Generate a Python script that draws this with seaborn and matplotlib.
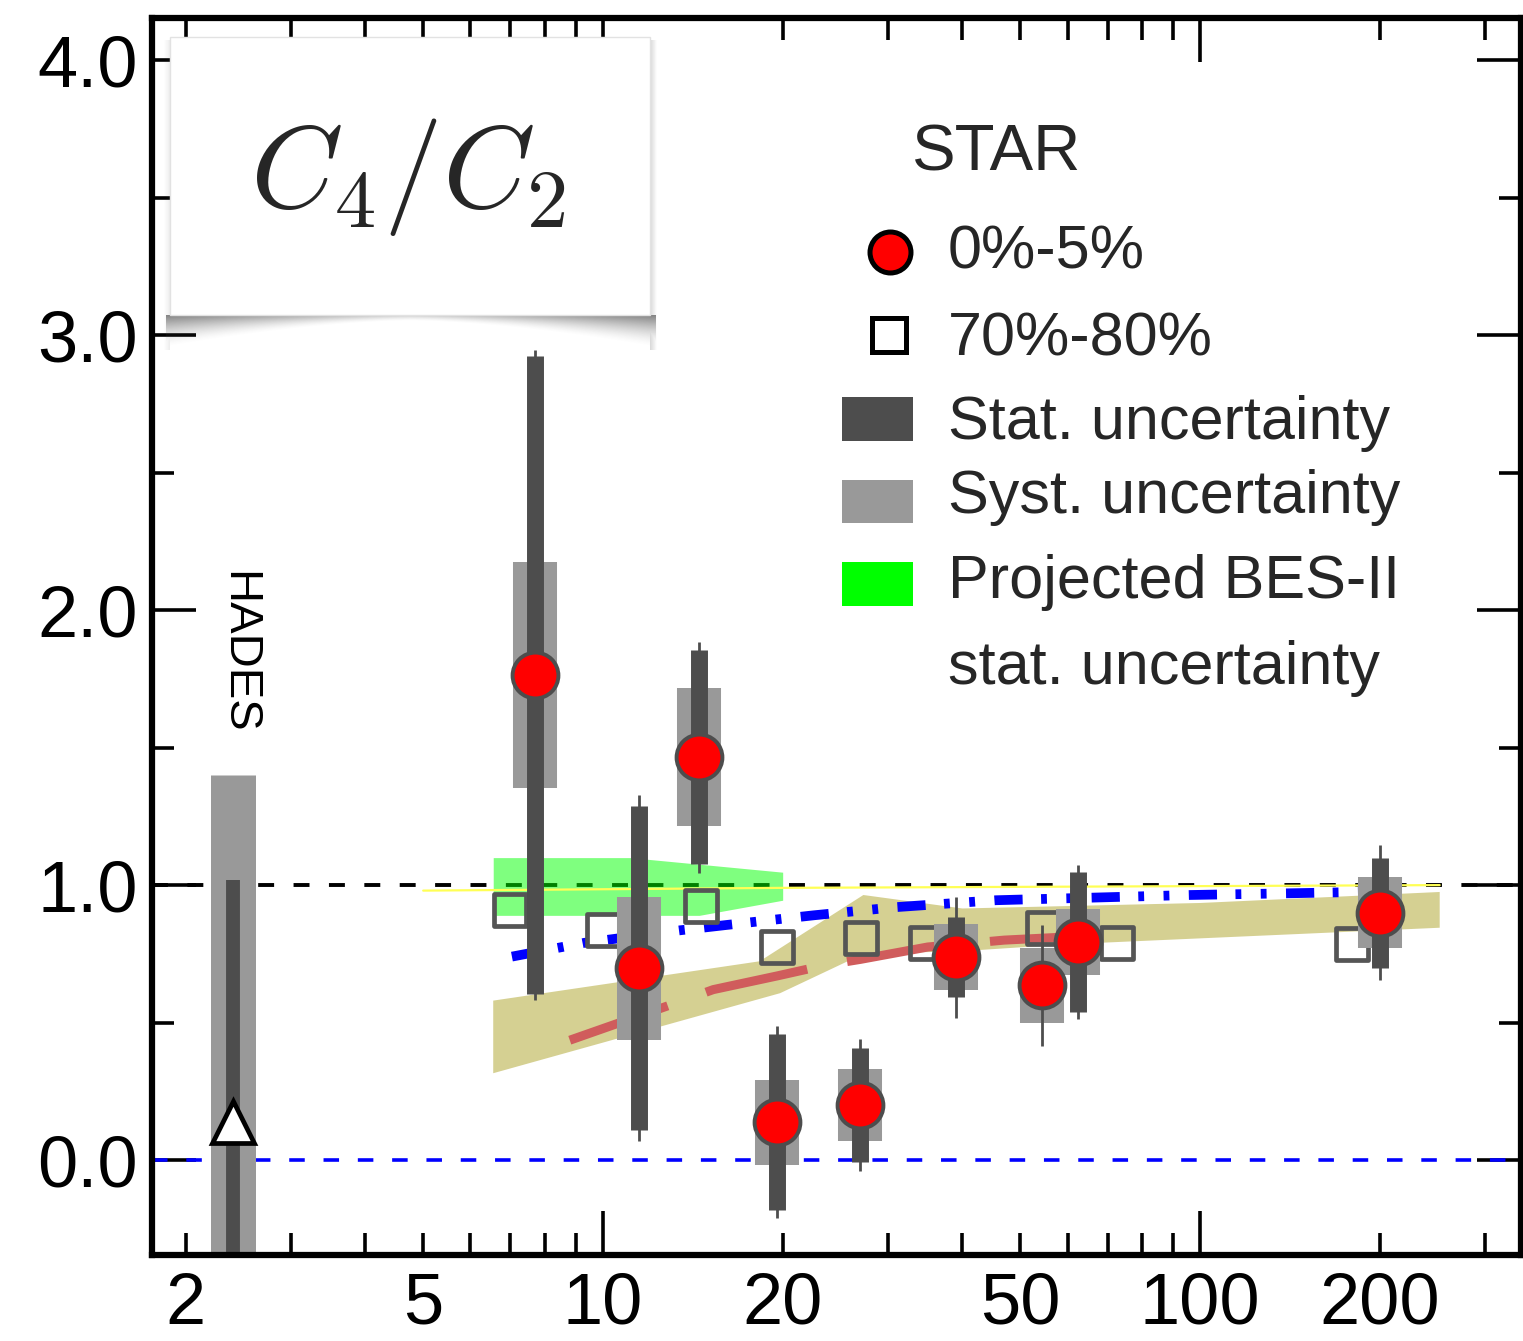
import numpy as np
import pandas as pd
import matplotlib
matplotlib.use("Agg")
import matplotlib.pyplot as plt
import matplotlib.ticker as mticker
from matplotlib.patches import Rectangle
import seaborn as sns

# ---- STAR, 0%-5% central collisions ----
energy = [7.7, 11.5, 14.5, 19.6, 27.0, 39.0, 54.4, 62.4, 200.0]
c4c2_central = [1.764, 0.698, 1.465, 0.138, 0.200, 0.738, 0.636, 0.793, 0.900]
stat_central = [1.16, 0.59, 0.39, 0.32, 0.207, 0.145, 0.08, 0.253, 0.20]
whisker_central = [1.18, 0.63, 0.42, 0.35, 0.24, 0.22, 0.22, 0.28, 0.245]
syst_central = [0.41, 0.26, 0.25, 0.155, 0.13, 0.12, 0.137, 0.12, 0.13]

# ---- STAR, 70%-80% peripheral collisions ----
energy_periph = [7.0, 10.0, 14.6, 19.6, 27.1, 34.8, 54.6, 72.6, 180.0]
c4c2_periph = [0.910, 0.836, 0.924, 0.775, 0.807, 0.790, 0.843, 0.790, 0.785]

# ---- HADES ----
hades_energy = [2.4]
hades_c4c2 = [0.14]
hades_stat = [0.88]
hades_syst = [1.26]

# ---- projected BES-II statistical band ----
bes2_energy = [6.55, 11.1, 14.5, 20.0]
bes2_upper = [1.10, 1.10, 1.076, 1.047]
bes2_lower = [0.89, 0.89, 0.89, 0.945]

# ---- model band ----
band_energy_upper = [6.55, 18.3, 27.3, 40.0, 100.0, 252.0]
band_upper = [0.58, 0.723, 0.964, 0.915, 0.935, 0.975]
band_energy_lower = [6.55, 19.8, 27.3, 40.0, 60.0, 252.0]
band_lower = [0.316, 0.607, 0.75, 0.76, 0.785, 0.845]

# ---- model curves ----
dashed_energy = [8.8, 13.6, 15.3, 19.6, 23.7, 27.0, 35.0, 47.0, 58.0]
dashed_c4c2 = [0.436, 0.58, 0.62, 0.67, 0.71, 0.73, 0.775, 0.80, 0.81]
dashdot_energy = [7.04, 9.3, 13.5, 16.1, 22.5, 31.0, 45.5, 96.0, 139.0, 185.0]
dashdot_c4c2 = [0.74, 0.79, 0.836, 0.855, 0.89, 0.92, 0.945, 0.964, 0.97, 0.975]
thin_energy = [5.0, 20.0, 252.0]
thin_c4c2 = [0.98, 0.99, 1.0]

x_labels = [2, 5, 10, 20, 50, 100, 200]
y_labels = [0.0, 1.0, 2.0, 3.0, 4.0]

central = pd.DataFrame(dict(energy=energy, c4c2=c4c2_central, stat=stat_central,
                            whisker=whisker_central, syst=syst_central))
periph = pd.DataFrame(dict(energy=energy_periph, c4c2=c4c2_periph))

W, H = 1523, 1341
sns.set_theme(style="ticks")
plt.rcParams["font.family"] = ["Liberation Sans", "DejaVu Sans"]
plt.rcParams["mathtext.fontset"] = "cm"

fig = plt.figure(figsize=(W / 100, H / 100), dpi=100)
fig.patch.set_facecolor("white")
L, R, T, B = 152, 1521, 18, 1255
ax = fig.add_axes([L / W, 1 - B / H, (R - L) / W, (B - T) / H])
ax.set_facecolor("white")
ax.set_xscale("log")
ax.set_xlim(1.757, 344.8)
ax.set_ylim(-0.345, 4.153)

# reference lines
ax.axhline(1.0, color="black", lw=2.8, linestyle=(0, (4.1, 5.0)), zorder=1)
ax.axhline(0.0, color="#0000ff", lw=2.6, linestyle=(0, (4.3, 5.2)), zorder=1)

# bands
ax.fill_between(bes2_energy, bes2_lower, bes2_upper, color="#00ff00", alpha=0.5,
                lw=0, zorder=2)
ax.fill(np.r_[band_energy_upper, band_energy_lower[::-1]],
        np.r_[band_upper, band_lower[::-1]], color="#aca226", alpha=0.5, lw=0, zorder=2)

# model curves
sns.lineplot(x=thin_energy, y=thin_c4c2, ax=ax, color="#ffff55", lw=1.6,
             sort=False, estimator=None, zorder=2.5)
sns.lineplot(x=dashed_energy, y=dashed_c4c2, ax=ax, color="#d05c5c", lw=6.5,
             linestyle=(0, (11.5, 4.5)), sort=False, estimator=None, zorder=3)
sns.lineplot(x=dashdot_energy, y=dashdot_c4c2, ax=ax, color="#0000ff", lw=7,
             linestyle=(0, (2.9, 1.9, 0.6, 2.0, 0.6, 2.0)), sort=False,
             estimator=None, zorder=3)

# peripheral points
sns.scatterplot(data=periph, x="energy", y="c4c2", ax=ax, marker="s", s=23 ** 2,
                facecolor="none", edgecolor="#555555", linewidth=3.4, zorder=4,
                legend=False)

# central points with uncertainties
ax.vlines(central.energy, central.c4c2 - central.syst, central.c4c2 + central.syst,
          color="#999999", lw=31.7, capstyle="butt", zorder=5)
ax.vlines(central.energy, central.c4c2 - central.whisker, central.c4c2 + central.whisker,
          color="#4d4d4d", lw=2.0, capstyle="butt", zorder=5.1)
ax.vlines(central.energy, central.c4c2 - central.stat, central.c4c2 + central.stat,
          color="#4d4d4d", lw=12.2, capstyle="butt", zorder=5.2)
sns.scatterplot(data=central, x="energy", y="c4c2", ax=ax, marker="o", s=33 ** 2,
                color="#ff0000", edgecolor="#4d4d4d", linewidth=2.8, zorder=6,
                legend=False)

# HADES
hades_c4c2_arr = np.array(hades_c4c2)
ax.vlines(hades_energy, hades_c4c2_arr - hades_syst, hades_c4c2_arr + hades_syst,
          color="#999999", lw=32.4, capstyle="butt", zorder=5)
ax.vlines(hades_energy, hades_c4c2_arr - hades_stat, hades_c4c2_arr + hades_stat,
          color="#4d4d4d", lw=10, capstyle="butt", zorder=5.2)
ax.plot(hades_energy, hades_c4c2, marker="^", ms=30, mfc="white", mec="black",
        mew=3.4, ls="none", zorder=6)

# axes styling
ax.set_xlabel("")
ax.set_ylabel("")
ax.xaxis.set_major_locator(mticker.FixedLocator([10, 100]))
ax.xaxis.set_minor_locator(mticker.FixedLocator(
    [2, 3, 4, 5, 6, 7, 8, 9, 20, 30, 40, 50, 60, 70, 80, 90, 200, 300]))
fmt = mticker.FuncFormatter(lambda v, p: f"{v:g}" if int(round(v)) in x_labels else "")
ax.xaxis.set_major_formatter(fmt)
ax.xaxis.set_minor_formatter(fmt)
ax.yaxis.set_major_locator(mticker.FixedLocator(y_labels))
ax.yaxis.set_minor_locator(mticker.FixedLocator([0.5, 1.5, 2.5, 3.5]))
ax.yaxis.set_major_formatter(mticker.FormatStrFormatter("%.1f"))
ax.tick_params(which="both", direction="in", top=True, right=True, width=2.6,
               color="black", labelcolor="black", labelsize=52)
ax.tick_params(which="major", length=32)
ax.tick_params(which="minor", length=16)
ax.tick_params(axis="x", which="both", pad=12)
ax.tick_params(axis="y", which="both", pad=10)
for sp in ax.spines.values():
    sp.set_linewidth(4.5)
    sp.set_color("black")
    sp.set_zorder(8)

# overlay in pixel units for the title card and the key
ov = fig.add_axes([0, 0, 1, 1], zorder=5)
ov.set_xlim(0, W)
ov.set_ylim(H, 0)
ov.axis("off")
ov.patch.set_alpha(0)

# curved drop shadow under the title card
bx0, bx1, by0, by1 = 170, 650, 37, 315
sx0, sx1, sy0, sy1 = 160, 660, 37, 350
gx = np.arange(sx0, sx1) + 0.5
gy = np.arange(sy0, sy1) + 0.5
GX, GY = np.meshgrid(gx, gy)
u = np.clip((GX - bx0) / (bx1 - bx0), 0, 1)
s = np.abs(2 * u - 1)
depth = 6 + 26 * s ** 1.6
below = np.clip(1 - (GY - by1) / depth, 0, 1) * (GY > by1) * (GX > bx0 - 4) * (GX < bx1 + 6)
alpha = (0.3 + 0.4 * s) * below ** 1.6
side = np.clip(1 - (GX - bx1) / 7, 0, 1) * (GX > bx1) * (GY > by0 + 3)
alpha = np.maximum(alpha, 0.22 * side)
lside = np.clip(1 - (bx0 - GX) / 6, 0, 1) * (GX < bx0) * (GY > by0 + 3)
alpha = np.maximum(alpha, 0.10 * lside)
img = np.zeros(GX.shape + (4,))
img[..., :3] = 0.3
img[..., 3] = alpha
ov.imshow(img, extent=(sx0, sx1, sy1, sy0), aspect="auto", interpolation="bilinear",
          zorder=1)
ov.add_patch(Rectangle((bx0, by0), bx1 - bx0, by1 - by0, fc="white", ec="#e2e2e2",
                       lw=1.0, zorder=2))
ov.text(408, 207, r"$C_4/C_2$", fontsize=85, ha="center", va="baseline", zorder=3)

# HADES label
ov.text(238, 652, "HADES", rotation=270, ha="center", va="center", fontsize=34,
        color="black", zorder=3)

# key
ov.text(912, 170, "STAR", fontsize=47, ha="left", va="baseline", zorder=3)
ov.plot([890], [252], marker="o", ms=29.5, mfc="#ff0000", mec="black", mew=3.6,
        ls="none", zorder=3)
ov.plot([889], [335], marker="s", ms=25, mfc="white", mec="black", mew=3.6,
        ls="none", zorder=3)
ov.add_patch(Rectangle((842, 397), 71, 44, fc="#4d4d4d", ec="none", zorder=3))
ov.add_patch(Rectangle((842, 480), 71, 43, fc="#999999", ec="none", zorder=3))
ov.add_patch(Rectangle((842, 562), 71, 44, fc="#00ff00", ec="none", zorder=3))
key_labels = ["0%-5%", "70%-80%", "Stat. uncertainty", "Syst. uncertainty",
              "Projected BES-II", "stat. uncertainty"]
key_baselines = [268, 355, 439, 513, 598, 684]
for lab, yb in zip(key_labels, key_baselines):
    ov.text(948, yb, lab, fontsize=44, ha="left", va="baseline", zorder=3)

fig.savefig("out.png", dpi=100, facecolor="white")
